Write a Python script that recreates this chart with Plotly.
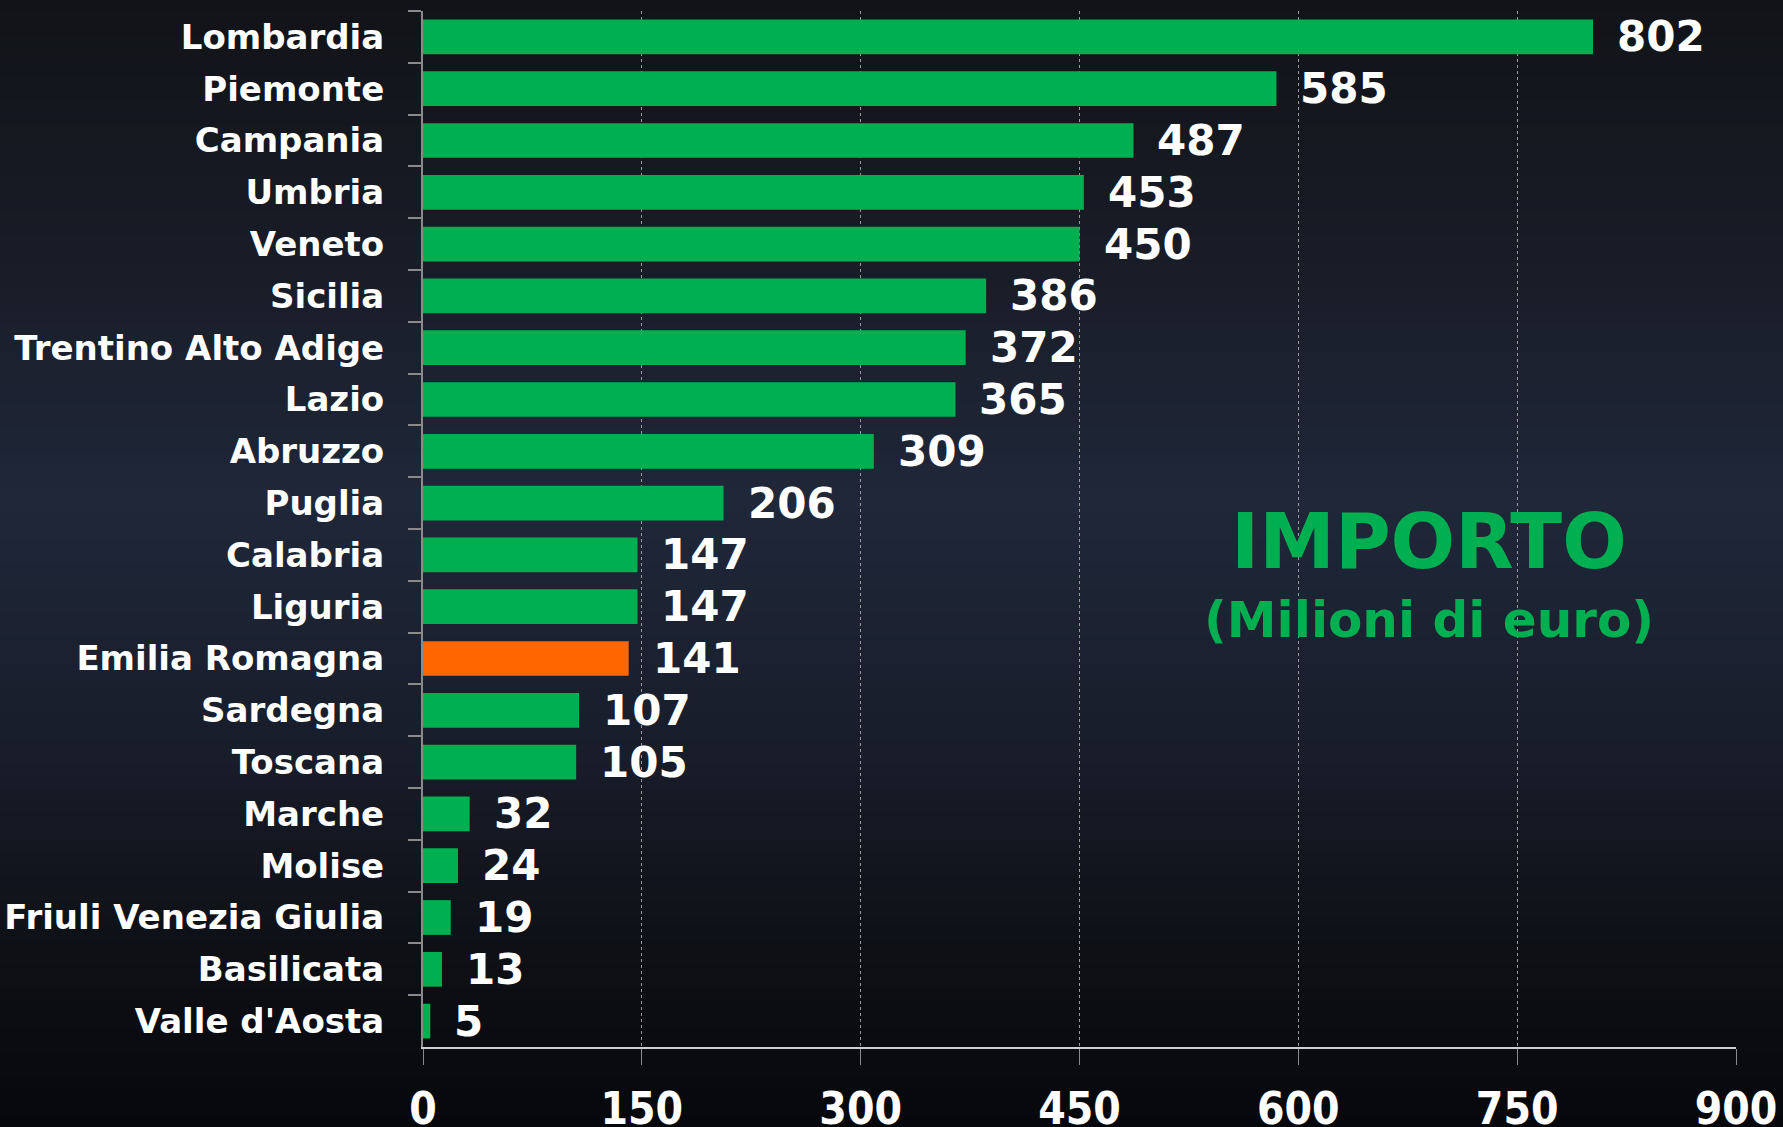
import plotly.graph_objects as go

regions = ["Lombardia", "Piemonte", "Campania", "Umbria", "Veneto", "Sicilia",
           "Trentino Alto Adige", "Lazio", "Abruzzo", "Puglia", "Calabria", "Liguria",
           "Emilia Romagna", "Sardegna", "Toscana", "Marche", "Molise",
           "Friuli Venezia Giulia", "Basilicata", "Valle d'Aosta"]
importo = [802, 585, 487, 453, 450, 386, 372, 365, 309, 206, 147, 147,
           141, 107, 105, 32, 24, 19, 13, 5]
highlight = "Emilia Romagna"
x_ticks = [0, 150, 300, 450, 600, 750, 900]

GREEN = "#00B050"
ORANGE = "#FF6600"
colors = [ORANGE if r == highlight else GREEN for r in regions]

W, H = 1783, 1127
M_L, M_R, M_T, M_B = 423, 47, 11, 80
plot_w = W - M_L - M_R
plot_h = H - M_T - M_B

fig = go.Figure()
fig.add_trace(go.Bar(
    y=regions, x=importo, orientation="h",
    marker=dict(color=colors, line=dict(width=0)),
    hoverinfo="x+y",
))

for r, v in zip(regions, importo):
    fig.add_annotation(x=v, y=r, text=str(v), showarrow=False,
                       xanchor="left", yanchor="middle", xshift=22,
                       font=dict(family="DejaVu Sans", size=42, color="white", weight="bold"))

fig.add_annotation(xref="paper", yref="paper",
                   x=(1429 - M_L) / plot_w, y=(H - M_B - 541) / plot_h,
                   text="IMPORTO", showarrow=False, xanchor="center", yanchor="middle",
                   font=dict(family="DejaVu Sans", size=76, color=GREEN, weight="bold"))
fig.add_annotation(xref="paper", yref="paper",
                   x=(1429 - M_L) / plot_w, y=(H - M_B - 620) / plot_h,
                   text="(Milioni di euro)", showarrow=False, xanchor="center", yanchor="middle",
                   font=dict(family="DejaVu Sans", size=50, color=GREEN, weight="bold"))

# background vertical gradient (piecewise)
stops = [(0, (17, 19, 24)), (250, (24, 28, 38)), (500, (31, 39, 57)),
         (750, (24, 29, 42)), (950, (14, 16, 22)), (1127, (7, 8, 11))]
N = 90
def col_at(p):
    for (p0, c0), (p1, c1) in zip(stops[:-1], stops[1:]):
        if p0 <= p <= p1:
            t = (p - p0) / (p1 - p0)
            return tuple(round(a + (b - a) * t) for a, b in zip(c0, c1))
    return stops[-1][1]
shapes = []
for i in range(N):
    p0 = H * i / N - (5 if i == 0 else 0)
    p1 = H * (i + 1) / N + (1 if i < N - 1 else 5)
    c = col_at(H * (i + 0.5) / N)
    shapes.append(dict(type="rect", xref="paper", yref="paper",
                       x0=-1.0, x1=2.0,
                       y0=(H - M_B - p1) / plot_h, y1=(H - M_B - p0) / plot_h,
                       fillcolor="rgb(%d,%d,%d)" % c, line=dict(width=0), layer="below"))

fig.update_layout(
    width=W, height=H,
    margin=dict(l=M_L, r=M_R, t=M_T, b=M_B, autoexpand=False),
    paper_bgcolor="#101218",
    plot_bgcolor="rgba(0,0,0,0)",
    bargap=0.33,
    showlegend=False,
    shapes=shapes,
    font=dict(family="DejaVu Sans", color="white"),
)
fig.update_xaxes(
    range=[0, 900], tickvals=x_ticks, ticktext=[str(t) for t in x_ticks],
    showgrid=True, gridcolor="#9a9a9a", griddash="dot", gridwidth=1,
    showline=True, linecolor="#d0d0d0", linewidth=2,
    ticks="outside", ticklen=16, tickcolor="#8a8a8a", tickwidth=1,
    tickfont=dict(family="DejaVu Sans Condensed, DejaVu Sans", size=44, color="white", weight="bold"),
    ticklabelstandoff=6, automargin=False, zeroline=False,
)
fig.update_yaxes(
    categoryorder="array", categoryarray=regions, autorange=False,
    range=[len(regions) - 0.5, -0.5],
    showline=True, linecolor="#8a8a8a", linewidth=2,
    ticks="outside", ticklen=13, tickcolor="#8a8a8a", tickwidth=2,
    tickson="boundaries", showgrid=False,
    tickfont=dict(family="DejaVu Sans", size=34, color="white", weight="bold"),
    ticklabelstandoff=30, automargin=False,
)

fig.write_html("out.html",
               config={"displayModeBar": False},
               post_script="document.body.style.margin='0';document.body.style.overflow='hidden';document.body.style.background='#101218';")
